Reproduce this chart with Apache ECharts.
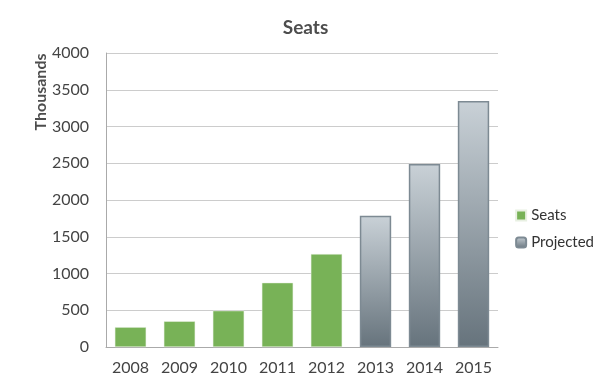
<!DOCTYPE html>
<html><head><meta charset="utf-8">
<script src="https://cdn.jsdelivr.net/npm/echarts@6/dist/echarts.min.js"></script>
<style>html,body{margin:0;padding:0;background:#fff}#c{width:611px;height:389px}</style>
</head><body><div id="c"></div>
<script>
const categories = ['2008','2009','2010','2011','2012','2013','2014','2015'];
const seats = [270, 350, 494, 875, 1265, null, null, null];
const projected = [null, null, null, null, null, 1786, 2490, 3347];
const yTicks = [0, 500, 1000, 1500, 2000, 2500, 3000, 3500, 4000];

const chart = echarts.init(document.getElementById('c'));
const font = 'Lato, "Open Sans", sans-serif';
const grad = new echarts.graphic.LinearGradient(0,0,0,1,[{offset:0,color:'#c9d1d7'},{offset:1,color:'#66737c'}]);
chart.setOption({
  animation:false,
  title:{text:'Seats',left:'center',top:13,textStyle:{fontFamily:font,fontSize:19,fontWeight:'bold',color:'#4d4d4d'}},
  legend:{right:12,top:203,orient:'vertical',itemWidth:10,itemHeight:10,itemGap:12,
    textStyle:{fontFamily:font,fontSize:15,color:'#333'},
    data:[{name:'Seats',icon:'rect'},{name:'Projected',icon:'roundRect'}]},
  grid:{left:106,right:113,top:53,bottom:42},
  graphic:[{type:'text',x:41,y:92,rotation:Math.PI/2,
    style:{text:'Thousands',fontFamily:font,fontSize:16,fontWeight:'bold',fill:'#4d4d4d',align:'center',verticalAlign:'middle'}}],
  xAxis:{type:'category',data:categories,
    axisLine:{lineStyle:{color:'#aaaaaa',width:1}},axisTick:{show:false},
    axisLabel:{fontFamily:font,fontSize:16,color:'#444',margin:13}},
  yAxis:{type:'value',min:yTicks[0],max:yTicks[yTicks.length-1],interval:500,
    axisLine:{show:true,lineStyle:{color:'#aaaaaa'}},axisTick:{show:false},
    splitLine:{lineStyle:{color:'#cccccc'}},
    axisLabel:{fontFamily:font,fontSize:16,color:'#444',margin:17,formatter:v=>String(v)}},
  series:[
    {name:'Seats',type:'bar',stack:'a',data:seats,barWidth:'64%',
      itemStyle:{color:'#78b257',borderColor:'#e8f0e2',borderWidth:0.5}},
    {name:'Projected',type:'bar',stack:'a',data:projected,barWidth:'64%',
      itemStyle:{color:grad,borderColor:'#7d8a93',borderWidth:1.5}}
  ]
});
</script></body></html>
